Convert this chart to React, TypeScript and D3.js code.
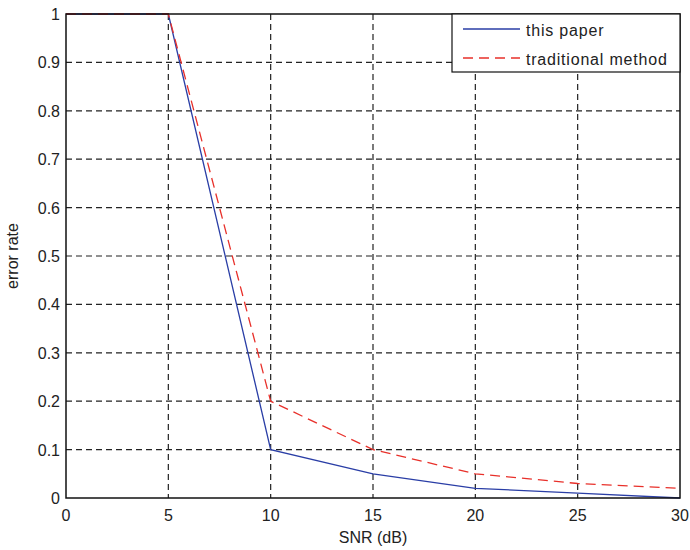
import React from 'react';
import * as d3 from 'd3';

const snr = [0, 5, 10, 15, 20, 25, 30];
const thisPaper = [1, 1, 0.1, 0.05, 0.02, 0.01, 0];
const traditional = [1, 1, 0.2, 0.1, 0.05, 0.03, 0.02];
const xTicks = [0, 5, 10, 15, 20, 25, 30];
const yTicks = [0, 0.1, 0.2, 0.3, 0.4, 0.5, 0.6, 0.7, 0.8, 0.9, 1];
const seriesNames = ['this paper', 'traditional method'];

const width = 690;
const height = 550;
const left = 66;
const right = 680;
const top = 14;
const bottom = 498;
const font = 'Liberation Sans, Arial, sans-serif';

export default function App() {
  const x = d3.scaleLinear().domain([0, 30]).range([left, right]);
  const y = d3.scaleLinear().domain([0, 1]).range([bottom, top]);

  const line = d3.line<number>()
    .x((d, i) => x(snr[i]))
    .y(d => y(d));

  return (
    <svg width={width} height={height} style={{ position: 'absolute', left: 0, top: 0 }}>
      <rect x={0} y={0} width={width} height={height} fill="#fff" />
      {/* grid */}
      {xTicks.slice(1, -1).map(t => (
        <line key={'gx' + t} x1={x(t)} x2={x(t)} y1={top} y2={bottom}
          stroke="#222" strokeWidth={1.2} strokeDasharray="6,4" />
      ))}
      {yTicks.slice(1, -1).map(t => (
        <line key={'gy' + t} x1={left} x2={right} y1={y(t)} y2={y(t)}
          stroke="#222" strokeWidth={1.2} strokeDasharray="6,4" />
      ))}

      {/* series */}
      <path d={line(thisPaper) || ''} fill="none" stroke="#2a3ea6" strokeWidth={1.3} />
      <path d={line(traditional) || ''} fill="none" stroke="#e8302a" strokeWidth={1.3} strokeDasharray="10,6" />

      {/* axes box */}
      <rect x={left} y={top} width={right - left} height={bottom - top}
        fill="none" stroke="#111" strokeWidth={1.5} />

      {/* tick labels */}
      {xTicks.map(t => (
        <text key={'tx' + t} x={x(t)} y={521} textAnchor="middle"
          fontFamily={font} fontSize={16} fill="#222">{t}</text>
      ))}
      {yTicks.map(t => (
        <text key={'ty' + t} x={60} y={y(t) + 6} textAnchor="end"
          fontFamily={font} fontSize={16} fill="#222">{t}</text>
      ))}

      {/* axis labels */}
      <text x={373} y={543} textAnchor="middle" fontFamily={font} fontSize={16} fill="#222">SNR (dB)</text>
      <text transform={`translate(18,${(top + bottom) / 2}) rotate(-90)`} textAnchor="middle"
        fontFamily={font} fontSize={16} fill="#222">error rate</text>

      {/* legend */}
      <rect x={452} y={14} width={228} height={58} fill="#fff" stroke="#111" strokeWidth={1.2} />
      <line x1={463} x2={520} y1={29} y2={29} stroke="#2a3ea6" strokeWidth={1.3} />
      <line x1={463} x2={520} y1={58} y2={58} stroke="#e8302a" strokeWidth={1.3} strokeDasharray="10,6" />
      <text x={526} y={36} fontFamily={font} fontSize={16} fill="#222" letterSpacing={0.8}>{seriesNames[0]}</text>
      <text x={526} y={65} fontFamily={font} fontSize={16} fill="#222" letterSpacing={0.8}>{seriesNames[1]}</text>
    </svg>
  );
}
